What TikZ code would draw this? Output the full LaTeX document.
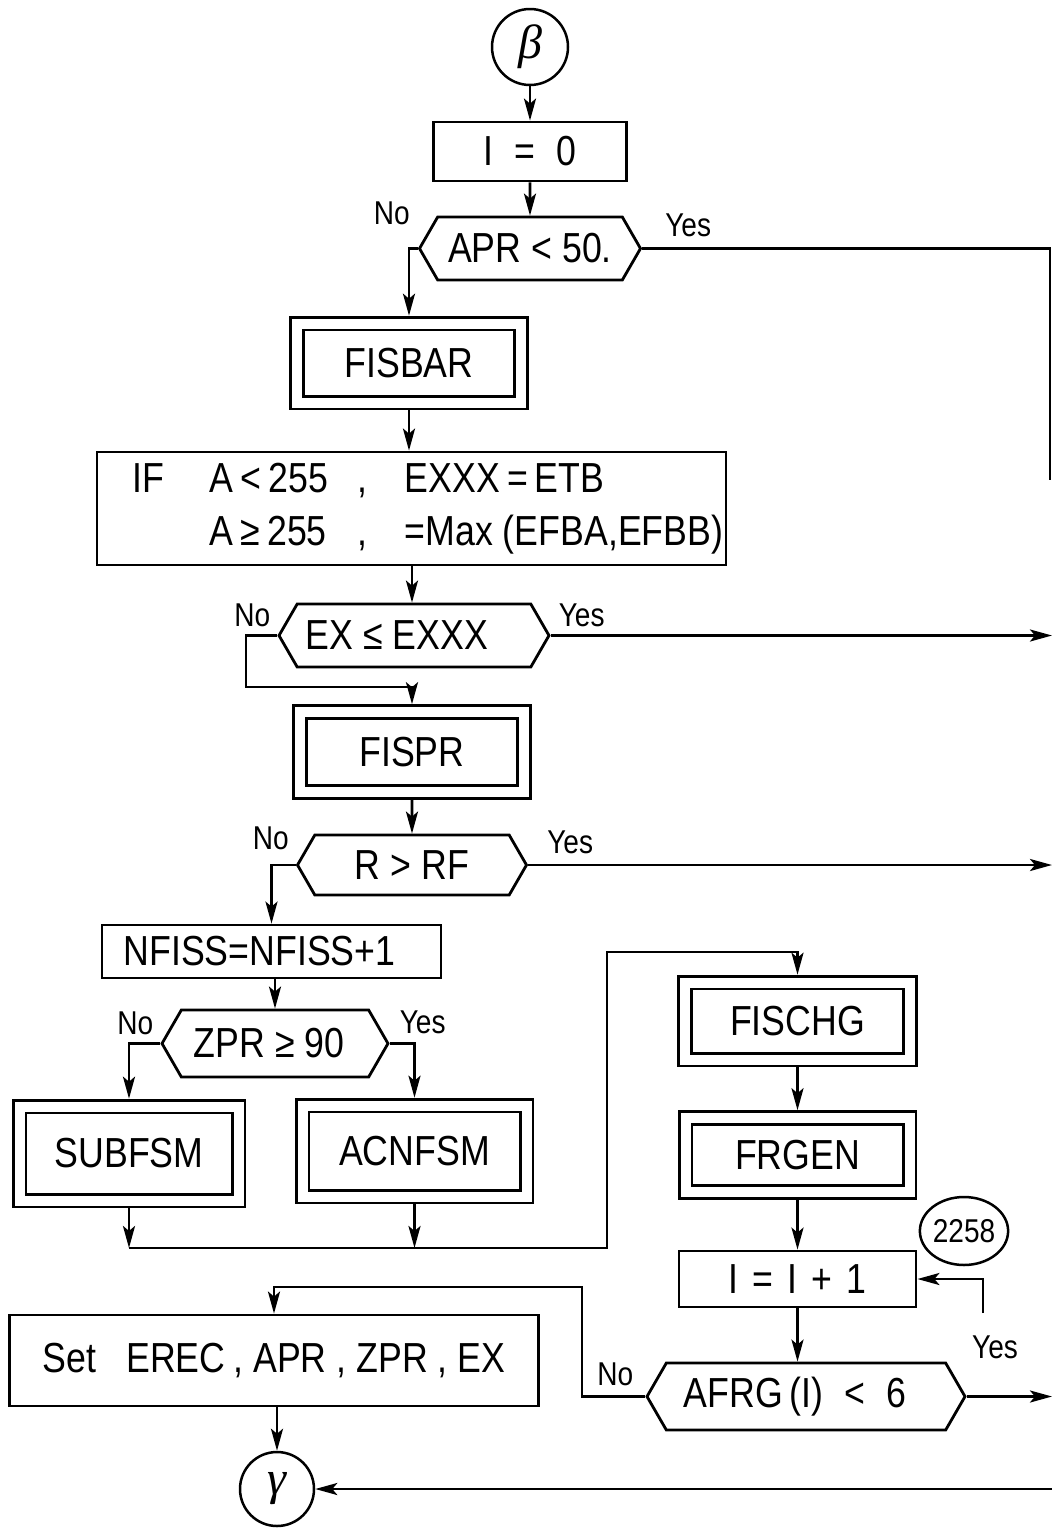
\documentclass[tikz,border=0pt]{standalone}
\usepackage{fontspec}
\setmainfont{Liberation Sans}[FakeStretch=0.85]
\newfontfamily\greekfont{Liberation Serif}
\usepackage{tikz}
\usetikzlibrary{shapes.geometric, shapes.symbols, arrows.meta, positioning, calc}
\tikzset{
  flow/.style={line width=2.8pt},
  arrow/.style={flow, -{Stealth[length=22pt, width=12pt, inset=5pt]}},
  process/.style={rectangle, draw, line width=2.8pt, inner sep=0pt, align=center},
  subprog/.style={process, double, double distance=10pt, outer sep=7.8pt},
  decision/.style={signal, signal to=east and west, signal pointer angle=120, draw, line width=2.8pt, inner sep=0pt},
  connector/.style={circle, draw, line width=2.5pt, inner sep=0pt, minimum size=76pt, font=\greekfont\itshape\fontsize{48}{50}\selectfont},
  answer/.style={inner sep=0pt, font=\fontsize{33}{36}\selectfont},
}

\begin{document}
\begin{tikzpicture}[x=1pt, y=-1pt, font=\fontsize{42}{53}\selectfont]
\useasboundingbox (0,0) rectangle (1052,1529);

% left column
\node[connector] (beta) at (530,47) {β};
\node[process, minimum width=193pt, minimum height=59pt] (izero) at (530,151.5) {I\enspace=\enspace0};
\node[decision, minimum width=221pt, minimum height=63pt] (apr) at (530,248.5) {APR < 50.};
\node[subprog, minimum width=224pt, minimum height=79pt] (fisbar) at (409,363) {FISBAR};
\node[process, minimum width=629pt, minimum height=113pt] (ifbox) at (411.5,508.5) {%
  \begin{tabular}{@{\hspace{33pt}}p{77pt}@{}p{148pt}@{}p{47pt}@{}l@{}}
  IF & A\,<\,255 & , & EXXX\,=\,ETB\\
     & A\,≥\,255 & , & =Max (EFBA,EFBB)
  \end{tabular}};
\node[decision, minimum width=270pt, minimum height=63pt] (ex) at (414,635.5) {\kern-34pt EX ≤ EXXX};
\node[subprog, minimum width=224pt, minimum height=80pt] (fispr) at (412,752) {FISPR};
\node[decision, minimum width=229pt, minimum height=60pt] (rrf) at (412,865) {R > RF};
\node[process, minimum width=339pt, minimum height=53pt] (nfiss) at (271.5,951.5) {NFISS=NFISS+1\hspace{24pt}};
\node[decision, minimum width=226pt, minimum height=67pt] (zpr) at (275,1043.5) {\kern-12pt ZPR ≥ 90};
\node[subprog, minimum width=219pt, minimum height=94pt] (subfsm) at (129,1153.5) {SUBFSM};
\node[subprog, minimum width=224pt, minimum height=91pt] (acnfsm) at (414.5,1151) {ACNFSM};

% right column
\node[subprog, minimum width=225pt, minimum height=77pt] (fischg) at (797.5,1021) {FISCHG};
\node[subprog, minimum width=224pt, minimum height=74pt] (frgen) at (797.5,1155) {FRGEN};
\node[process, minimum width=237pt, minimum height=56pt] (inc) at (797.5,1279) {I\hspace{14pt}=\hspace{14pt}I\hspace{14pt}+\hspace{14pt}1};
\node[ellipse, draw, line width=2.5pt, inner sep=0pt, minimum width=78pt, minimum height=68pt, font=\fontsize{33}{36}\selectfont] (c2258) at (964,1231) {2258};
\node[decision, minimum width=318pt, minimum height=67pt] (afrg) at (806,1396.5) {\kern-22pt AFRG\,(I)\enspace<\enspace6};

% bottom
\node[process, minimum width=529pt, minimum height=91pt] (setbox) at (274,1360.5) {Set\hspace{30pt}EREC\hspace{8pt}, APR , ZPR , EX};
\node[connector, minimum size=74pt] (gamma) at (277,1489) {γ};

% bends and page edge
\coordinate (edge) at (1052,0);
\coordinate (yesdown) at (1050,480);
\coordinate (exbend) at (246,687);
\coordinate (join) at (607,1248);
\coordinate (rise) at (607,952);
\coordinate (back) at (582,1287);
\coordinate (again) at (983,1313);

% yes / no
\node[answer, above left=23.5pt and 8pt of apr.west] (aprno) {No};
\node[answer, above right=11.5pt and 23pt of apr.east] (apryes) {Yes};
\node[answer, above left=8.5pt and 7pt of ex.west] (exno) {No};
\node[answer, above right=8.5pt and 8pt of ex.east] (exyes) {Yes};
\node[answer, above left=15pt and 7pt of rrf.west] (rrfno) {No};
\node[answer, above right=11pt and 19pt of rrf.east] (rrfyes) {Yes};
\node[answer, above left=8.5pt and 7pt of zpr.west] (zprno) {No};
\node[answer, above right=9.5pt and 10pt of zpr.east] (zpryes) {Yes};
\node[answer, above left=10.5pt and 12pt of afrg.west] (afrgno) {No};
\node[answer, below=23pt of again, xshift=12pt] (afrgyes) {Yes};

\draw[arrow] (beta) -- (izero);
\draw[arrow] (izero) -- (apr);
\draw[arrow] (apr.west) -| (fisbar.north);
\draw[flow] (apr.east) -| (yesdown);
\draw[arrow] (fisbar.south) -- (fisbar.south |- ifbox.north);
\draw[arrow] (fispr.north |- ifbox.south) -- (fispr.north |- ex.north);
\draw[arrow] (ex.west) -| (exbend) -| (fispr.north);
\draw[arrow] (ex.east) -- (ex.east -| edge);
\draw[arrow] (fispr) -- (rrf);
\draw[arrow] (rrf.west) -| (nfiss.north);
\draw[arrow] (rrf.east) -- (rrf.east -| edge);
\draw[arrow] (zpr.north |- nfiss.south) -- (zpr.north);
\draw[arrow] (zpr.west) -| (subfsm.north);
\draw[arrow] (zpr.east) -| (acnfsm.north);
\draw[arrow] (subfsm.south) -- (subfsm.south |- join);
\draw[arrow] (acnfsm.south) -- (acnfsm.south |- join);
\draw[arrow] (subfsm.south |- join) -- (join) -- (rise) -| (fischg.north);
\draw[arrow] (fischg) -- (frgen);
\draw[arrow] (frgen) -- (inc);
\draw[arrow] (inc.south) -- (inc.south |- afrg.north);
\draw[arrow] (again) |- (inc.east);
\draw[arrow] (afrg.east) -- (afrg.east -| edge);
\draw[arrow] (afrg.west) -| (back) -| (setbox.north);
\draw[arrow] (gamma.north |- setbox.south) -- (gamma);
\draw[arrow] (gamma.east -| edge) -- (gamma);
\end{tikzpicture}
\end{document}
